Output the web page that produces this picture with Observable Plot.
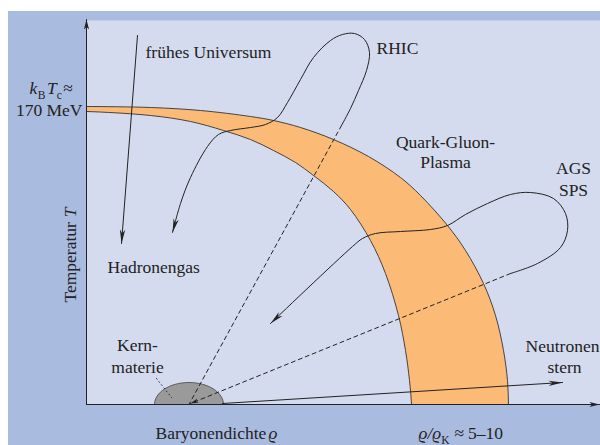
<!DOCTYPE html>
<html><head><meta charset="utf-8">
<script src="https://cdn.jsdelivr.net/npm/d3@7"></script>
<script src="https://cdn.jsdelivr.net/npm/@observablehq/plot@0.6"></script>
<style>
body{margin:0;background:#fff;}
#chart{position:absolute;left:8px;top:11px;}
</style></head><body><div id="chart"></div>
<script>
// Schematic phase diagram: x = baryon density (0 at the T axis), y = temperature (0 at the density axis)
// Phase-transition band: outer (upper) edge and inner (lower) edge
const bandOuter = [[-20,298],[0,298],[64,297],[114,294],[164,288],[187,284],[214,277],[247,265],[282,248],[314,227],[334,209],[361,179],[379,154],[397,121],[409,89],[417,54],[421,24],[422,0],[422.5,-20]];
const bandInner = [[-20,293],[0,293],[64,289],[104,283],[137,274],[164,265],[187,254],[209,242],[227,229],[247,213],[264,195],[284,164],[299,131],[312,89],[319,54],[323,24],[325,0],[325,-20]];
// Trajectories
const earlyUniverse = [[51,369],[35,161]];
const rhicDashed = [[255,279],[103,1]];
const rhicLoop = [[255,279],[264,296],[272,314],[280,334],[283,352],[278,365],[268,371],[256,370],[244,364],[227,347],[214,325],[201,302],[191,287],[179,280],[164,277],[144,274],[132,270],[121,258],[104,227],[94,201],[86,172]];
const agsDashed = [[424,131],[104,1]];
const agsLoop = [[424,131],[451,141],[474,157],[481,174],[479,191],[467,206],[444,212],[424,210],[401,201],[379,190],[361,179],[344,175],[314,173],[289,171],[276,166],[266,158],[184,81]];
const neutronStar = [[136,1],[476,22]];
const kernLeader = [[70,26],[85,7]];
const nuclearMatter = [[102.5,0]];
const axisT = [[0,0],[0,385]];
const axisRho = [[0,0],[513,0]];
// Text labels
const labels = [
  {t:"frühes Universum", x:59, y:347, a:"start"},
  {t:"RHIC", x:290, y:351, a:"start"},
  {t:"Quark-Gluon-", x:359, y:257, a:"middle"},
  {t:"Plasma", x:359, y:237, a:"middle"},
  {t:"AGS", x:487, y:231, a:"middle"},
  {t:"SPS", x:487, y:209, a:"middle"},
  {t:"Hadronengas", x:21, y:132, a:"start"},
  {t:"Kern-", x:51, y:54, a:"middle"},
  {t:"materie", x:51, y:32, a:"middle"},
  {t:"Neutronen", x:476, y:53, a:"middle"},
  {t:"stern", x:478, y:32, a:"middle"},
  {t:"Baryonendichte", x:69, y:-34, a:"start"},
  {t:"170 MeV", x:-4, y:289, a:"end"},
  {t:"Temperatur", x:-11, y:102, a:"start", r:-90}
];
const italicLabels = [
  {t:"ϱ", x:182, y:-34, a:"start"},
  {t:"T", x:-11, y:197, a:"end", r:-90}
];
// Labels with subscripts: [text, italic, subscript, extra gap before]
const tcParts = [["k",true,false,0],["B",false,true,0.5],["T",true,false,1.5],["c",false,true,0],["≈",false,false,1.5]];
const densParts = [["ϱ/ϱ",true,false,0],["K",false,true,0],["≈",false,false,5],["5–10",false,false,4]];
const richLabels = [
  {t:"kBTc≈", x:-57, y:311, a:"start", parts: tcParts},
  {t:"ϱ/ϱK≈5–10", x:332, y:-34, a:"start", parts: densParts}
];

const ink = "#222";
const font = "'Liberation Serif', 'DejaVu Serif', serif";
const X = d => d[0], Y = d => d[1];

function stealth(len, half, notch) {
  return {draw(ctx) { ctx.moveTo(0,0); ctx.lineTo(half,len); ctx.lineTo(0,notch); ctx.lineTo(-half,len); ctx.closePath(); }};
}
const ellipse = {draw(ctx) {
  const a = 34.5, b = 22, k = 0.5523;
  ctx.moveTo(a,0);
  ctx.bezierCurveTo(a,k*b,k*a,b,0,b);
  ctx.bezierCurveTo(-k*a,b,-a,k*b,-a,0);
  ctx.bezierCurveTo(-a,-k*b,-k*a,-b,0,-b);
  ctx.bezierCurveTo(k*a,-b,a,-k*b,a,0);
  ctx.closePath();
}};
const bigHead = stealth(14, 2.7, 10);
const axisHead = stealth(10, 2.6, 7.5);
const smallHead = stealth(8, 2.2, 6);

function path(data, opts = {}) {
  return Plot.line(data, {x: X, y: Y, stroke: ink, strokeWidth: 1, curve: "catmull-rom", ...opts});
}
function head(data, shape) {
  const n = data.length, [x1,y1] = data[n-1], [x0,y0] = data[n-2];
  return Plot.dot([[x1,y1]], {x: X, y: Y, symbol: shape, fill: ink, stroke: "none",
    rotate: Math.atan2(x1-x0, y1-y0) * 180 / Math.PI});
}
function texts(list, opts) {
  return list.map(l => Plot.text([l], {x: "x", y: "y", text: "t", textAnchor: l.a, lineAnchor: "bottom",
    rotate: l.r || 0, fontFamily: font, fill: ink, fontSize: 17.5, ...opts}));
}

const chart = Plot.plot({
  width: 592, height: 434,
  marginLeft: 78, marginTop: 9, marginRight: 0, marginBottom: 41,
  x: {domain: [0, 514], axis: null},
  y: {domain: [0, 384], axis: null},
  style: {background: "#aabbe0", overflow: "visible"},
  marks: [
    Plot.frame({fill: "#d4dbef", stroke: "none"}),
    Plot.line([...bandOuter, ...bandInner.slice().reverse()], {x: X, y: Y, fill: "#fbbb76", stroke: "#333", strokeWidth: 0.9, curve: "catmull-rom", clip: true}),
    Plot.dot(nuclearMatter, {x: X, y: Y, symbol: ellipse, fill: "#9a9a9a", stroke: "#444", strokeWidth: 0.8, clip: true}),
    path(earlyUniverse, {curve: "linear"}),
    path(rhicDashed, {curve: "linear", strokeDasharray: "4,3.5"}),
    path(rhicLoop),
    path(agsDashed, {curve: "linear", strokeDasharray: "4,3.5"}),
    path(agsLoop),
    path(neutronStar, {curve: "linear"}),
    path(kernLeader, {curve: "linear", strokeDasharray: "1,3", strokeWidth: 0.9}),
    path(axisT, {curve: "linear"}),
    path(axisRho, {curve: "linear"}),
    head(earlyUniverse, bigHead),
    head(rhicLoop, bigHead),
    head(agsLoop, bigHead),
    head(neutronStar, bigHead),
    head(agsDashed, smallHead),
    head(axisT, axisHead),
    head(axisRho, axisHead),
    ...texts(labels, {}),
    ...texts(italicLabels, {fontStyle: "italic"}),
    ...texts(richLabels, {})
  ]
});
// turn the rich labels into one text element each, with italic parts and subscripts
richLabels.forEach(l => {
  d3.select(chart).selectAll("text").filter(function() { return this.textContent === l.t; }).each(function() {
    const el = d3.select(this);
    el.text(null);
    let shifted = false;
    l.parts.forEach(([s, it, sub, gap]) => {
      const ts = el.append("tspan").text(s);
      if (gap) ts.attr("dx", gap);
      if (it) ts.attr("font-style", "italic");
      if (sub) { ts.attr("font-size", 11.5).attr("dy", 5); shifted = true; }
      else if (shifted) { ts.attr("dy", -5); shifted = false; }
    });
  });
});
document.getElementById("chart").appendChild(chart);
</script>
</body></html>
